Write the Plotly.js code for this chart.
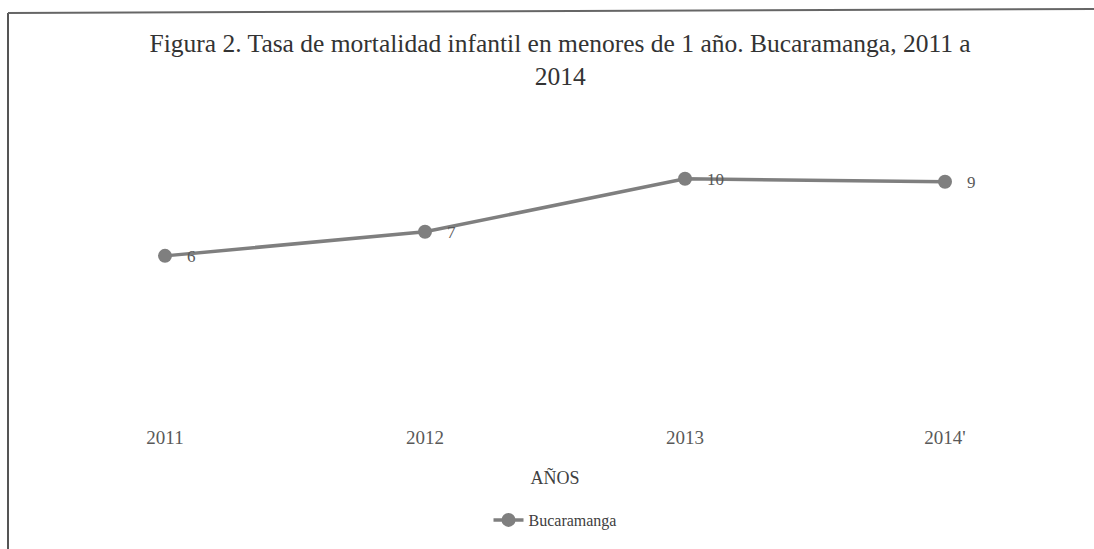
<!DOCTYPE html>
<html>
<head>
<meta charset="utf-8">
<script src="https://cdn.plot.ly/plotly-3.0.1.min.js"></script>
<style>html,body{margin:0;padding:0;background:#fff;}#chart{width:1094px;height:549px;}</style>
</head>
<body>
<div id="chart"></div>
<script>
var years = ['2011', '2012', '2013', '2014\''];
var tasa = [6.4, 7.4, 9.6, 9.48];
var dataLabels = ['6', '7', '10', '9'];
var seriesName = 'Bucaramanga';

var W = 1094, H = 549, ml = 35, mr = 19, mt = 121, mb = 139;
var pw = W - ml - mr, ph = H - mt - mb;
function px(x) { return (x - ml) / pw; }
function py(y) { return (H - mb - y) / ph; }

var trace = {
  x: years,
  y: tasa,
  type: 'scatter',
  mode: 'lines+markers',
  name: seriesName,
  line: {color: '#7f7f7f', width: 3.5},
  marker: {color: '#7f7f7f', size: 14},
  hoverinfo: 'x+y'
};

var labelAnnotations = years.map(function (yr, i) {
  return {
    x: i, y: tasa[i], xref: 'x', yref: 'y',
    text: dataLabels[i], showarrow: false,
    xanchor: 'left', yanchor: 'middle',
    xshift: 20, yshift: -1,
    font: {family: 'Liberation Serif, serif', size: 17, color: '#595959'}
  };
});

var layout = {
  width: W, height: H,
  margin: {l: ml, r: mr, t: mt, b: mb},
  paper_bgcolor: '#ffffff',
  plot_bgcolor: '#ffffff',
  font: {family: 'Liberation Serif, serif', color: '#404040'},
  title: {
    text: 'Figura 2. Tasa de mortalidad infantil en menores de 1 año. Bucaramanga, 2011 a<br>2014',
    font: {family: 'Liberation Serif, serif', size: 25.5, color: '#333333'},
    x: 0.512, xanchor: 'center',
    y: 0.905, yanchor: 'top'
  },
  xaxis: {
    type: 'category',
    range: [-0.5, 3.5],
    showgrid: false, zeroline: false, showline: false,
    ticks: '',
    tickfont: {family: 'Liberation Serif, serif', size: 19, color: '#595959'},
    ticklabelstandoff: 14,
    title: {text: 'AÑOS', font: {family: 'Liberation Serif, serif', size: 18, color: '#404040'}, standoff: 24}
  },
  yaxis: {
    range: [0, 12],
    visible: false,
    showgrid: false, zeroline: false
  },
  showlegend: true,
  legend: {
    orientation: 'h',
    x: 0.5, xanchor: 'center',
    y: py(520), yanchor: 'middle',
    font: {family: 'Liberation Serif, serif', size: 16, color: '#404040'}
  },
  annotations: labelAnnotations,
  shapes: [
    {type: 'line', xref: 'paper', yref: 'paper', x0: px(8), x1: px(8), y0: py(13), y1: py(560), line: {color: '#555555', width: 2}},
    {type: 'line', xref: 'paper', yref: 'paper', x0: px(8), x1: px(1100), y0: py(13), y1: py(9), line: {color: '#666666', width: 2}}
  ]
};

Plotly.newPlot('chart', [trace], layout, {displayModeBar: false});
</script>
</body>
</html>
